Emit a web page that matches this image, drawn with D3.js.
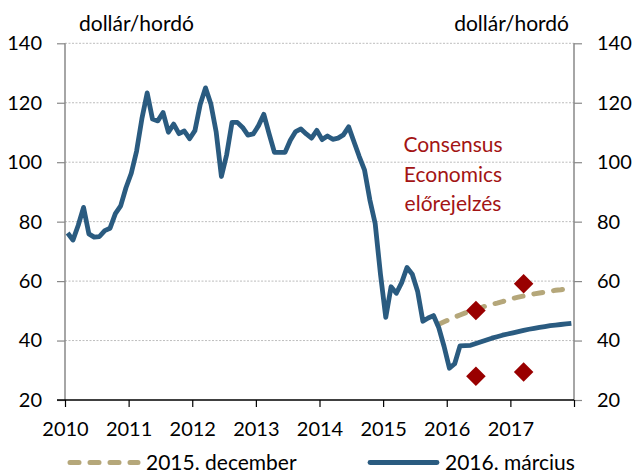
<!DOCTYPE html>
<html>
<head>
<meta charset="utf-8">
<script src="https://cdn.jsdelivr.net/npm/d3@7"></script>
<style>
  html, body { margin: 0; padding: 0; background: #fff; }
  svg { display: block; font-family: Lato, "Open Sans", sans-serif; }
</style>
</head>
<body>
<svg id="chart" width="634" height="475"></svg>
<script>
// ---- Data ----
const startYear = 2010;
const yearTicks = [2010, 2011, 2012, 2013, 2014, 2015, 2016, 2017, 2018];
const yTicks = [20, 40, 60, 80, 100, 120, 140];
const unitLabel = "dollár/hordó";
const annotation = ["Consensus", "Economics", "előrejelzés"];
const seriesNames = ["2015. december", "2016. március"];

// Monthly Brent price, Jan 2010 – Mar 2016 (USD/barrel)
const history = [
  76.2, 73.8, 78.8, 84.8, 75.9, 74.8, 75.0, 77.0, 77.8, 82.7, 85.3, 91.4,
  96.3, 103.7, 114.6, 123.3, 114.5, 113.9, 116.7, 110.1, 112.8, 109.6, 110.5, 107.9,
  110.6, 119.4, 125.0, 119.7, 110.3, 95.2, 102.6, 113.4, 113.4, 111.7, 109.1, 109.5,
  112.3, 116.1, 109.5, 103.3, 103.3, 103.3, 107.4, 110.3, 111.2, 109.5, 108.1, 110.7,
  107.6, 108.8, 107.7, 108.1, 109.2, 111.9, 106.9, 101.9, 97.3, 87.3, 79.4, 62.3,
  47.8, 58.1, 55.9, 59.5, 64.6, 62.3, 56.6, 46.5, 47.6, 48.4, 44.3, 38.0,
  30.7, 32.2, 38.2
];
// Futures path 2016. március: Apr 2016 – Dec 2017
const march2016 = [
  38.3, 38.4, 39.0, 39.6, 40.2, 40.8, 41.3, 41.8, 42.2,
  42.6, 43.0, 43.4, 43.8, 44.1, 44.4, 44.7, 45.0, 45.2, 45.4, 45.6, 45.8
];
const march2016Start = 75; // month index (Apr 2016)
// Futures path 2015. december: Nov 2015 – Dec 2017
const dec2015 = [
  45.5, 46.3,
  47.1, 47.9, 48.6, 49.3, 49.9, 50.5, 51.1, 51.7, 52.2, 52.6, 53.1, 53.6,
  54.2, 54.6, 55.0, 55.4, 55.7, 56.0, 56.3, 56.6, 56.9, 57.1, 57.4, 57.6
];
const dec2015Start = 70; // month index (Nov 2015)
// Consensus Economics forecasts (high / low)
const consensusMonth = [77, 77, 86, 86]; // Jun 2016, Mar 2017
const consensusValue = [50.1, 28.0, 59.1, 29.4];

// ---- Layout ----
const svg = d3.select("#chart");
const pL = 65, pR = 574, pT = 43.3, pB = 400;
const x = d3.scaleLinear().domain([2010, 2018]).range([pL, pR]);
const y = d3.scaleLinear().domain([20, 140]).range([pB, pT]);
const mx = i => x(startYear + (i + 0.5) / 12);

const blue = "#2a5b80", tan = "#b5a77a", red = "#990000", textRed = "#a31414";
const fsNum = 20, fsTxt = 21;

// gridlines
svg.append("g").selectAll("line").data(yTicks.filter(d => d > 20)).join("line")
  .attr("x1", pL).attr("x2", pR)
  .attr("y1", d => y(d)).attr("y2", d => y(d))
  .attr("stroke", "#bdbdbd").attr("stroke-width", 1).attr("stroke-dasharray", "2,1.5");

// left axis
const yl = svg.append("g").attr("transform", `translate(${pL},0)`)
  .call(d3.axisLeft(y).tickValues(yTicks).tickSize(8).tickPadding(15));
yl.select(".domain").attr("stroke", "#888").attr("stroke-width", 1.5).attr("d", `M0,${pT}V${pB}`);
yl.selectAll(".tick line").attr("stroke", "#888").attr("stroke-width", 1.2);
yl.selectAll("text").attr("font-size", fsNum).attr("font-family", "Lato").attr("fill", "#000");

// right axis
const yr = svg.append("g").attr("transform", `translate(${pR},0)`)
  .call(d3.axisRight(y).tickValues(yTicks).tickSize(8).tickPadding(15));
yr.select(".domain").attr("stroke", "#888").attr("stroke-width", 1.5).attr("d", `M0,${pT}V${pB}`);
yr.selectAll(".tick line").attr("stroke", "#888").attr("stroke-width", 1.2);
yr.selectAll("text").attr("font-size", fsNum).attr("font-family", "Lato").attr("fill", "#000");

// bottom axis
const xa = svg.append("g").attr("transform", `translate(0,${pB})`)
  .call(d3.axisBottom(x).tickValues(yearTicks).tickFormat(d => d === 2018 ? "" : d3.format("d")(d)).tickSize(7).tickPadding(15));
xa.select(".domain").attr("stroke", "#000").attr("stroke-width", 1.3).attr("d", `M${pL - 8},0H${pR}`);
xa.selectAll(".tick line").attr("stroke", "#000").attr("stroke-width", 1.2);
xa.selectAll("text").attr("font-size", fsNum).attr("font-family", "Lato").attr("fill", "#000");

// unit labels
svg.append("text").attr("x", 79).attr("y", 31).attr("font-size", fsTxt).text(unitLabel);
svg.append("text").attr("x", 569).attr("y", 31).attr("text-anchor", "end").attr("font-size", fsTxt).text(unitLabel);

// lines
const line = d3.line().x(d => mx(d.i)).y(d => y(d.v)).curve(d3.curveLinear);
const decData = dec2015.map((v, k) => ({ i: dec2015Start + k, v }));
const solidData = history.map((v, k) => ({ i: k, v }))
  .concat(march2016.map((v, k) => ({ i: march2016Start + k, v })));

svg.append("path").datum(decData).attr("d", line)
  .attr("fill", "none").attr("stroke", tan).attr("stroke-width", 5)
  .attr("stroke-dasharray", "9,11").attr("stroke-linecap", "round");

svg.append("path").datum(solidData).attr("d", line)
  .attr("fill", "none").attr("stroke", blue).attr("stroke-width", 4.8)
  .attr("stroke-linejoin", "round");

// diamonds
svg.append("g").selectAll("rect").data(consensusValue).join("rect")
  .attr("x", -6.9).attr("y", -6.9).attr("width", 13.8).attr("height", 13.8)
  .attr("fill", red)
  .attr("transform", (d, k) => `translate(${mx(consensusMonth[k])},${y(d)}) rotate(45)`);

// annotation
svg.append("g").selectAll("text").data(annotation).join("text")
  .attr("x", 453).attr("y", (d, k) => 152 + k * 29.5)
  .attr("text-anchor", "middle").attr("font-size", fsTxt).attr("fill", textRed).text(d => d);

// legend
const lg = svg.append("g");
lg.append("line").attr("x1", 70).attr("x2", 138).attr("y1", 462.5).attr("y2", 462.5)
  .attr("stroke", tan).attr("stroke-width", 5).attr("stroke-dasharray", "9,11").attr("stroke-linecap", "round");
lg.append("text").attr("x", 146).attr("y", 469.5).attr("font-size", fsTxt).text(seriesNames[0]);
lg.append("line").attr("x1", 370).attr("x2", 437).attr("y1", 462.5).attr("y2", 462.5)
  .attr("stroke", blue).attr("stroke-width", 4.8).attr("stroke-linecap", "round");
lg.append("text").attr("x", 445).attr("y", 469.5).attr("font-size", fsTxt).text(seriesNames[1]);
</script>
</body>
</html>
